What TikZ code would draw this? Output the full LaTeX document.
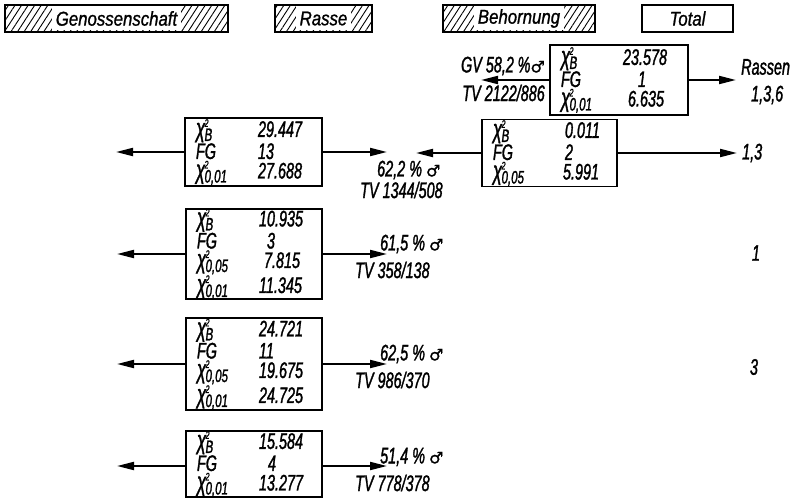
\documentclass[tikz,border=0pt]{standalone}
\usepackage{fontspec}
\setmainfont{Liberation Sans}
\newfontfamily\lettfont{Liberation Sans}[FakeStretch=0.64,FakeBold=1.3]
\newfontfamily\headfont{Liberation Sans}[FakeStretch=0.84,FakeBold=1]
\newfontfamily\symf{DejaVu Sans}[FakeBold=1]
\usetikzlibrary{arrows.meta,patterns.meta}
\newcommand\chis[1]{{\fontsize{26}{19}\selectfont χ}\kern-0.5pt\rlap{\raisebox{10pt}{\fontsize{11}{10}\selectfont 2}}\raisebox{-4pt}{\fontsize{18}{16}\selectfont #1}}
\newcommand\row[2]{\makebox[62pt][l]{#1}#2}
\newcommand\male{{\symf\fontsize{16}{16}\selectfont ♂}}
\begin{document}
\begin{tikzpicture}[x=1pt,y=-1pt,
  lett/.style={font=\lettfont\itshape\fontsize{22.5}{19.5}\selectfont},
  hbox/.style={draw,line width=1.7pt,minimum height=27pt,inner sep=0pt,
    pattern={Lines[angle=57,distance=5.5pt,line width=0.9pt]}},
  htext/.style={fill=white,inner xsep=4pt,inner ysep=0pt,minimum height=24pt,
    font=\headfont\itshape\fontsize{20}{18}\selectfont},
  tbox/.style={draw,line width=1.7pt,minimum height=27pt,inner sep=0pt,
    font=\headfont\itshape\fontsize{20}{18}\selectfont},
  databox/.style={draw,line width=1.8pt,inner xsep=11pt,inner ysep=0pt,align=left,lett},
  arr/.style={line width=2pt,-{Triangle[length=17pt,width=8pt]}},
  lab/.style={inner sep=0pt,lett}]
\useasboundingbox (0,0) rectangle (800,503);
% header
\node[hbox,minimum width=223pt] (hg) at (116.5,18.5) {};
\node[htext] (tg) at (hg) {Genossenschaft};
\node[hbox,minimum width=97pt] (hr) at (323.5,18.5) {};
\node[htext] (tr) at (hr) {Rasse};
\node[hbox,minimum width=152pt] (hb) at (519,18.5) {};
\node[htext] (tb) at (hb) {Behornung};
\node[tbox,minimum width=91pt] (ht) at (687.5,18.5) {Total};
% boxes
\node[databox,text width=116pt,minimum height=70pt] (T) at (619,80)
  {\row{\chis{B}}{23.578}\\\row{FG}{\hspace{15pt}1}\\\row{\chis{0,01}}{\hspace{5pt}6.635}};
\node[databox,text width=113pt,minimum height=67pt] (B) at (549.5,153)
  {\row{\chis{B}}{\hspace{10pt}0.011}\\\row{FG}{\hspace{10pt}2}\\\row{\chis{0,05}}{\hspace{8pt}5.991}};
\node[databox,text width=115pt,minimum height=68pt] (A) at (253.5,152)
  {\row{\chis{B}}{29.447}\\\row{FG}{13}\\\row{\chis{0,01}}{27.688}};
\node[databox,text width=114pt,minimum height=90pt] (C) at (254,254)
  {\row{\chis{B}}{10.935}\\\row{FG}{\hspace{8pt}3}\\\row{\chis{0,05}}{\hspace{5pt}7.815}\\\row{\chis{0,01}}{11.345}};
\node[databox,text width=114pt,minimum height=92pt] (D) at (254,364)
  {\row{\chis{B}}{24.721}\\\row{FG}{11}\\\row{\chis{0,05}}{19.675}\\\row{\chis{0,01}}{24.725}};
\node[databox,text width=114pt,minimum height=66pt] (E) at (254,464)
  {\row{\chis{B}}{15.584}\\\row{FG}{\hspace{9pt}4}\\\row{\chis{0,01}}{13.277}};
% arrow ends
\coordinate (Tl) at (481,80);
\coordinate (Tr) at (736,80);
\coordinate (Bl) at (416,153);
\coordinate (Br) at (737,153);
\coordinate (Al) at (116,152);
\coordinate (Ar) at (387,152);
\coordinate (Cl) at (117,254);
\coordinate (Cr) at (387,254);
\coordinate (Dl) at (117,364);
\coordinate (Dr) at (387,364);
\coordinate (El) at (117,466);
\coordinate (Er) at (387,466);
\foreach \n in {T,B,A,C,D}{
  \draw[arr] (\n.west) -- (\n l);
  \draw[arr] (\n.east) -- (\n r);
}
\draw[arr] (E.west |- El) -- (El);
\draw[arr] (E.east |- Er) -- (Er);
% labels
\node[lab,anchor=east] (l1) at (545,66) {GV 58,2\,\%\male};
\node[lab,anchor=east] (l2) at (545,93) {TV 2122/886};
\node[lab,anchor=west] (l3) at (741,67) {Rassen};
\node[lab,anchor=west] (l4) at (751,95) {1,3,6};
\node[lab,anchor=west] (l5) at (742,153) {1,3};
\node[lab,anchor=west] (l6) at (377,170) {62,2 \% \male};
\node[lab,anchor=west] (l7) at (360,190) {TV 1344/508};
\node[lab,anchor=west] (l8) at (380,244) {61,5 \% \male};
\node[lab,anchor=west] (l9) at (355,270) {TV 358/138};
\node[lab,anchor=west] (l10) at (380,354) {62,5 \% \male};
\node[lab,anchor=west] (l11) at (355,380) {TV 986/370};
\node[lab,anchor=west] (l12) at (380,457) {51,4 \% \male};
\node[lab,anchor=west] (l13) at (355,483) {TV 778/378};
\node[lab] (l14) at (756,253) {1};
\node[lab] (l15) at (754,367) {3};
\end{tikzpicture}
\end{document}
